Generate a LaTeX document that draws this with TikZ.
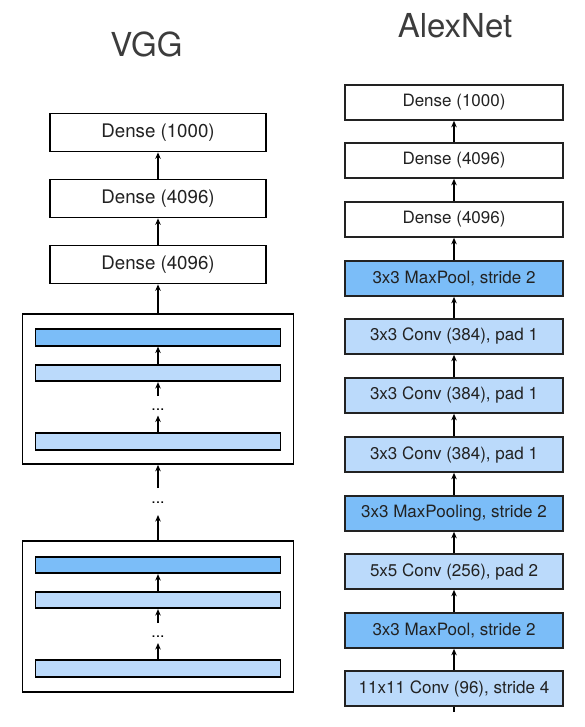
\documentclass[tikz,border=0pt]{standalone}
\usepackage{fontspec}
\setmainfont{TeX Gyre Heros}
\usetikzlibrary{arrows.meta}
\definecolor{poolblue}{HTML}{7BBDF8}
\definecolor{convblue}{HTML}{BBDAFB}
\definecolor{txt}{HTML}{222222}
\definecolor{ttl}{HTML}{3C3C3C}
\tikzset{
  arr/.style={line width=1.3pt,-{Stealth[length=6.5pt,width=5.5pt]}},
  vdense/.style={draw=black,line width=1.7pt,fill=white,minimum width=216pt,minimum height=38pt,inner sep=0pt,text=txt,font=\fontsize{18.7}{20}\selectfont},
  bigbox/.style={draw=black,line width=1.7pt,fill=white,minimum width=271pt,inner sep=0pt},
  vbar/.style={draw=black,line width=1.7pt,minimum width=245pt,minimum height=16.5pt,inner sep=0pt},
  abox/.style={draw=txt,line width=1.6pt,minimum width=218pt,minimum height=35pt,inner sep=0pt,text=txt,font=\fontsize{17}{19}\selectfont},
  pool/.style={fill=poolblue},
  conv/.style={fill=convblue},
  dense/.style={fill=white},
  dotsnode/.style={inner sep=0pt,font=\fontsize{16}{16}\selectfont,text=black},
  title/.style={anchor=base,text=ttl,font=\fontsize{33}{36}\selectfont}
}
\begin{document}
\begin{tikzpicture}[x=1pt,y=-1pt]
\useasboundingbox (0,0) rectangle (584,727);
% titles
\node[title] (tv) at (146.5,57) {VGG};
\node[title] (ta) at (455,38) {AlexNet};
% ---------------- VGG ----------------
\node[vdense] (vd1) at (158,132.5) {Dense (1000)};
\node[vdense] (vd2) at (158,198.5) {Dense (4096)};
\node[vdense] (vd3) at (158,264.5) {Dense (4096)};
\node[bigbox,minimum height=150pt] (bb1) at (158,389) {};
\node[vbar,pool] (b1a) at (158,337.5) {};
\node[vbar,conv] (b1b) at (158,373) {};
\node[vbar,conv] (b1c) at (158,441.5) {};
\node[dotsnode] (d1) at (158,410) {...};
\coordinate (t1) at (158,396);
\coordinate (h1) at (158,415.5);
\node[dotsnode] (dm) at (158,503) {...};
\coordinate (tm) at (158,488);
\coordinate (hm) at (158,515);
\node[bigbox,minimum height=151pt] (bb2) at (158,616.5) {};
\node[vbar,pool] (b2a) at (158,565) {};
\node[vbar,conv] (b2b) at (158,600) {};
\node[vbar,conv] (b2c) at (158,668.5) {};
\node[dotsnode] (d2) at (158,637) {...};
\coordinate (t2) at (158,623);
\coordinate (h2) at (158,643);
\draw[arr] (vd2.north) -- (vd1.south);
\draw[arr] (vd3.north) -- (vd2.south);
\draw[arr] (bb1.north) -- (vd3.south);
\draw[arr] (b1b.north) -- (b1a.south);
\draw[arr] (t1) -- (b1b.south);
\draw[arr] (b1c.north) -- (h1);
\draw[arr] (tm) -- (bb1.south);
\draw[arr] (bb2.north) -- (hm);
\draw[arr] (b2b.north) -- (b2a.south);
\draw[arr] (t2) -- (b2b.south);
\draw[arr] (b2c.north) -- (h2);
% ---------------- AlexNet ----------------
\node[abox,dense] (a1) at (454,102.5) {Dense (1000)};
\node[abox,dense] (a2) at (454,160.5) {Dense (4096)};
\node[abox,dense] (a3) at (454,219.5) {Dense (4096)};
\node[abox,pool] (a4) at (454,278.5) {3x3 MaxPool, stride 2};
\node[abox,conv] (a5) at (454,336.5) {3x3 Conv (384), pad 1};
\node[abox,conv] (a6) at (454,395.5) {3x3 Conv (384), pad 1};
\node[abox,conv] (a7) at (454,454.5) {3x3 Conv (384), pad 1};
\node[abox,pool] (a8) at (454,513.5) {3x3 MaxPooling, stride 2};
\node[abox,conv] (a9) at (454,571.5) {5x5 Conv (256), pad 2};
\node[abox,pool] (a10) at (454,630.5) {3x3 MaxPool, stride 2};
\node[abox,conv] (a11) at (454,688.5) {11x11 Conv (96), stride 4};
\coordinate (ain) at (454,712);
\foreach \lo/\hi in {a2/a1,a3/a2,a4/a3,a5/a4,a6/a5,a7/a6,a8/a7,a9/a8,a10/a9,a11/a10}
  \draw[arr] (\lo.north) -- (\hi.south);
\draw[line width=1.3pt] (ain) -- (a11.south);
\end{tikzpicture}
\end{document}
